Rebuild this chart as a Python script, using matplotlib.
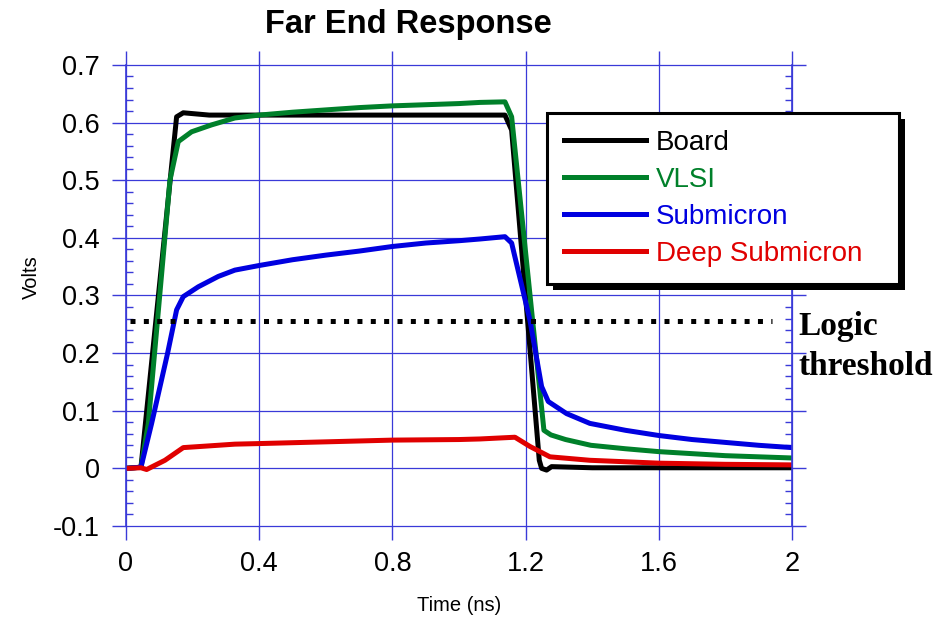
import numpy as np
import matplotlib
matplotlib.use("Agg")
import matplotlib.pyplot as plt
from matplotlib.patches import Rectangle
from matplotlib.ticker import MultipleLocator

# ---- data ----
t_board = [0, 0.045, 0.152, 0.172, 0.25, 0.6, 1.0, 1.138, 1.158, 1.241, 1.248,
           1.263, 1.278, 1.4, 1.6, 2.0]
v_board = [0, 0.002, 0.61, 0.617, 0.613, 0.613, 0.613, 0.613, 0.587, 0.014, 0.0,
           -0.003, 0.003, 0.001, 0.001, 0.001]

t_vlsi = [0, 0.045, 0.067, 0.117, 0.132, 0.157, 0.197, 0.257, 0.327, 0.4, 0.5,
          0.6, 0.7, 0.8, 0.9, 1.0, 1.063, 1.138, 1.158, 1.255, 1.276, 1.32,
          1.396, 1.5, 1.6, 1.8, 2.0]
v_vlsi = [0, 0.002, 0.078, 0.402, 0.5, 0.567, 0.584, 0.596, 0.608, 0.613, 0.618,
          0.622, 0.626, 0.629, 0.631, 0.633, 0.635, 0.636, 0.61, 0.066, 0.058, 0.05,
          0.040, 0.034, 0.029, 0.022, 0.018]

t_sub = [0, 0.045, 0.077, 0.125, 0.152, 0.172, 0.217, 0.277, 0.327, 0.4, 0.5,
         0.6, 0.7, 0.8, 0.9, 1.0, 1.063, 1.138, 1.158, 1.213, 1.248, 1.268,
         1.323, 1.393, 1.5, 1.6, 1.7, 1.8, 1.9, 2.0]
v_sub = [0, 0.002, 0.078, 0.2, 0.275, 0.298, 0.315, 0.333, 0.344, 0.352, 0.362,
         0.370, 0.377, 0.385, 0.391, 0.395, 0.398, 0.402, 0.391, 0.257, 0.142, 0.116,
         0.095, 0.078, 0.066, 0.057, 0.050, 0.045, 0.040, 0.036]

t_deep = [0, 0.045, 0.062, 0.117, 0.172, 0.25, 0.327, 0.4, 0.6, 0.8, 1.0, 1.063,
          1.168, 1.213, 1.273, 1.393, 1.6, 1.8, 2.0]
v_deep = [0, 0.001, -0.002, 0.014, 0.036, 0.039, 0.042, 0.043, 0.046, 0.049, 0.050,
          0.051, 0.054, 0.038, 0.020, 0.014, 0.009, 0.007, 0.006]

t_thresh = [0.013, 1.94]
v_thresh = [0.255, 0.255]

series = [
    ("Board", t_board, v_board, "#000000"),
    ("VLSI", t_vlsi, v_vlsi, "#00802a"),
    ("Submicron", t_sub, v_sub, "#0000e0"),
    ("Deep Submicron", t_deep, v_deep, "#e00000"),
]

plt.rcParams['font.family'] = ['Liberation Sans', 'DejaVu Sans']
GRID = "#3a3ad8"

fig = plt.figure(figsize=(9.53, 6.18), dpi=100)
ax = fig.add_axes([0.1322, 0.1489, 0.6989, 0.746])

for name, t, v, c in series:
    ax.plot(t, v, color=c, lw=3.6, label=name, solid_joinstyle='round')

ax.plot(t_thresh, v_thresh, color='k', lw=3.6, linestyle=(0, (1, 1.67)),
        dash_capstyle='butt')

ax.set_xlim(0, 2)
ax.set_ylim(-0.1, 0.7)
ax.set_xticks([0, 0.4, 0.8, 1.2, 1.6, 2.0])
ax.set_xticklabels(['0', '0.4', '0.8', '1.2', '1.6', '2'])
ax.set_yticks(np.round(np.arange(-0.1, 0.71, 0.1), 1))
ax.set_yticklabels(['-0.1', '0', '0.1', '0.2', '0.3', '0.4', '0.5', '0.6', '0.7'])
ax.yaxis.set_minor_locator(MultipleLocator(0.02))

ax.grid(True, which='major', color=GRID, lw=0.9)
for gl in ax.get_xgridlines() + ax.get_ygridlines():
    gl.set_clip_on(False)
ax.spines['top'].set_visible(False)
ax.spines['bottom'].set_visible(False)
for s in ('left', 'right'):
    ax.spines[s].set_color(GRID)
    ax.spines[s].set_linewidth(1.2)

ax.tick_params(axis='y', which='major', direction='out', length=10, width=1,
               color=GRID, left=True, right=True, labelsize=19.5, pad=9)
ax.tick_params(axis='y', which='minor', direction='in', length=5, width=1,
               color=GRID, left=True, right=True)
ax.tick_params(axis='x', which='major', direction='out', length=10, width=1,
               color=GRID, top=True, bottom=True, labelsize=19.5, pad=8)

fig.text(0.428, 0.96, "Far End Response", ha='center', va='center',
         fontsize=23.5, fontweight='bold')
fig.text(0.4815, 0.021, "Time (ns)", ha='center', va='center', fontsize=14.5)
fig.text(0.0325, 0.552, "Volts", ha='center', va='center', fontsize=14.5,
         rotation=90)

ax.text(2.02, 0.2314, "Logic", fontsize=24, fontweight='bold',
        family='Liberation Serif', va='baseline', clip_on=False)
ax.text(2.02, 0.162, "threshold", fontsize=24, fontweight='bold',
        family='Liberation Serif', va='baseline', clip_on=False)

leg = ax.legend(loc='upper left', bbox_to_anchor=(0.574, 0.5437, 0.3694, 0.2735),
                bbox_transform=fig.transFigure, mode='expand', borderaxespad=0,
                fontsize=20, handlelength=2.95, handletextpad=0.36,
                labelspacing=0.4, borderpad=0.6, fancybox=False, framealpha=1)
leg.get_frame().set_edgecolor('k')
leg.get_frame().set_linewidth(2.2)
leg.set_zorder(6)
for txt, ln in zip(leg.get_texts(), leg.get_lines()):
    txt.set_color(ln.get_color())

# solid black drop shadow behind the legend box
fig.canvas.draw()
bb = leg.get_frame().get_window_extent().transformed(fig.transFigure.inverted())
off_x, off_y = 6 / 953, 6 / 618
shadow = Rectangle((bb.x0 + off_x, bb.y0 - off_y), bb.width, bb.height,
                   transform=fig.transFigure, facecolor='k', edgecolor='none',
                   zorder=5.5, clip_on=False)
ax.add_artist(shadow)

fig.savefig("out.png", dpi=100)
